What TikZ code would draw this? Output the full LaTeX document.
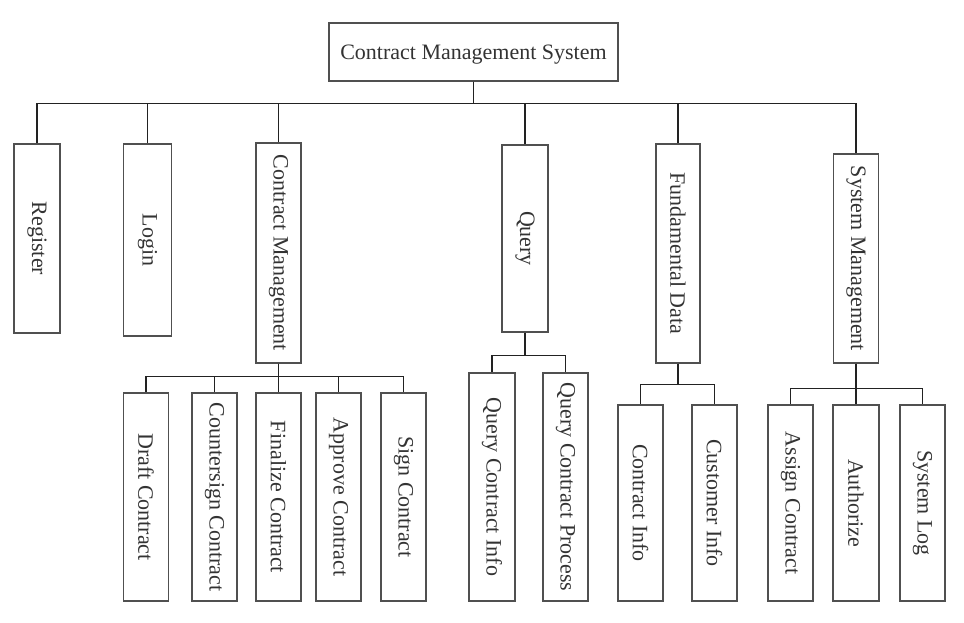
\documentclass[tikz,border=0pt]{standalone}
\usepackage{fontspec}
\usepackage{graphicx}
\setmainfont{Liberation Serif}
\definecolor{boxline}{HTML}{505050}
\definecolor{conn}{HTML}{222222}
\definecolor{txt}{HTML}{333333}
\begin{document}
\begin{tikzpicture}[x=1pt,y=-1pt,
  box/.style={draw=boxline, line width=1.3pt, rectangle, inner sep=0pt, text=txt,
    minimum width=45pt, font=\fontsize{22}{26}\selectfont},
  link/.style={draw=conn, line width=1.3pt}]
\useasboundingbox (0,0) rectangle (964,623);
\node[box, minimum width=289pt, minimum height=58pt, text depth=0pt] (root) at (473.5,52) {Contract Management System};
% level 1
\node[box, minimum width=46pt, minimum height=189pt] (reg) at (37,238.5) {\rotatebox{-90}{Register}};
\node[box, minimum width=48pt, minimum height=192pt] (login) at (147.5,240) {\rotatebox{-90}{Login}};
\node[box, minimum height=220pt] (cm) at (278.5,253) {\rotatebox{-90}{Contract Management}};
\node[box, minimum width=46pt, minimum height=187pt] (query) at (525,238.5) {\rotatebox{-90}{Query}};
\node[box, minimum width=44pt, minimum height=219pt] (fund) at (678,253.5) {\rotatebox{-90}{Fundamental Data}};
\node[box, minimum height=209pt] (sm) at (856,258.5) {\rotatebox{-90}{System Management}};
% contract management children
\node[box, minimum height=208pt] (draft) at (146,497) {\rotatebox{-90}{Draft Contract}};
\node[box, minimum height=208pt] (counter) at (214.5,497) {\rotatebox{-90}{Countersign Contract}};
\node[box, minimum height=208pt] (final) at (278.5,497) {\rotatebox{-90}{Finalize Contract}};
\node[box, minimum height=208pt] (approve) at (338.5,497) {\rotatebox{-90}{Approve Contract}};
\node[box, minimum height=208pt] (sign) at (403.5,497) {\rotatebox{-90}{Sign Contract}};
% query children
\node[box, minimum width=46pt, minimum height=228pt] (qci) at (492,487) {\rotatebox{-90}{Query Contract Info}};
\node[box, minimum height=228pt] (qcp) at (565.5,487) {\rotatebox{-90}{Query Contract Process}};
% fundamental data children
\node[box, minimum height=196pt] (ci) at (640.5,503) {\rotatebox{-90}{Contract Info}};
\node[box, minimum height=196pt] (cu) at (714.5,503) {\rotatebox{-90}{Customer Info}};
% system management children
\node[box, minimum height=196pt] (assign) at (790.5,503) {\rotatebox{-90}{Assign Contract}};
\node[box, minimum width=46pt, minimum height=196pt] (auth) at (856,503) {\rotatebox{-90}{Authorize}};
\node[box, minimum height=196pt] (slog) at (922.5,503) {\rotatebox{-90}{System Log}};
% connectors
\foreach \c in {reg,login,cm,query,fund,sm}
  \draw[link] (root.south) -- ++(0,22) -| (\c.north);
\foreach \c in {draft,counter,final,approve,sign}
  \draw[link] (cm.south) -- ++(0,13) -| (\c.north);
\foreach \c in {qci,qcp}
  \draw[link] (query.south) -- ++(0,23) -| (\c.north);
\foreach \c in {ci,cu}
  \draw[link] (fund.south) -- ++(0,21) -| (\c.north);
\foreach \c in {assign,auth,slog}
  \draw[link] (sm.south) -- ++(0,25) -| (\c.north);
\end{tikzpicture}
\end{document}
